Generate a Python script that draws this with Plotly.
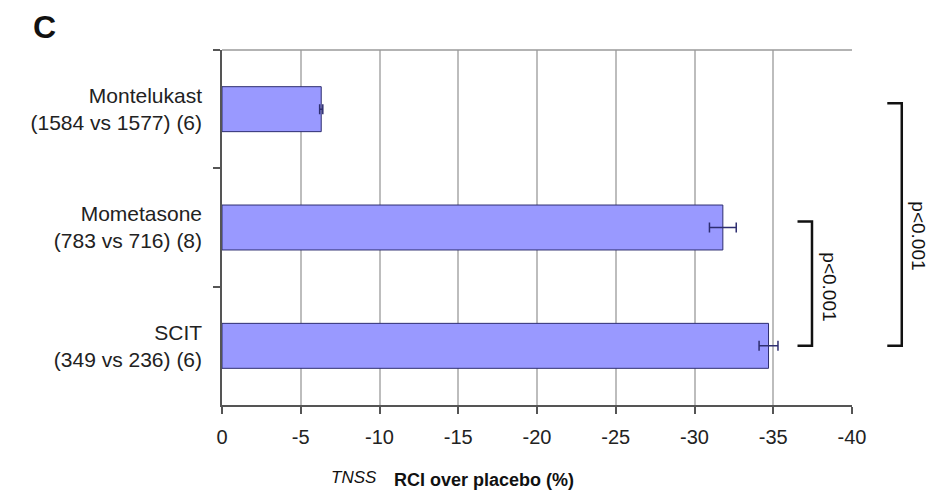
import plotly.graph_objects as go

# ---- data ----
categories = [
    "Montelukast<br>(1584 vs 1577) (6)",
    "Mometasone<br>(783 vs 716) (8)",
    "SCIT<br>(349 vs 236) (6)",
]
rci_values = [-6.3, -31.8, -34.7]
rci_errors = [0.1, 0.85, 0.6]
x_tick_values = [0, -5, -10, -15, -20, -25, -30, -35, -40]
x_tick_labels = ["0", "-5", "-10", "-15", "-20", "-25", "-30", "-35", "-40"]
# comparisons: (from category index, to category index, label)
comparisons = [(1, 2, "p<0.001"), (0, 2, "p<0.001")]

W, H = 932, 497
L, R, T, B = 222, 80, 50, 92

fig = go.Figure()
fig.add_trace(go.Bar(
    x=rci_values, y=categories, orientation="h",
    width=0.38,
    marker=dict(color="#9999ff", line=dict(color="#2e2e70", width=1)),
    error_x=dict(type="data", array=rci_errors, color="#2e2e70", thickness=1.5, width=5),
    showlegend=False,
))

font_main = "Liberation Sans Narrow, Liberation Sans, Arial, sans-serif"

fig.update_layout(
    width=W, height=H,
    margin=dict(l=L, r=R, t=T, b=B),
    paper_bgcolor="white", plot_bgcolor="white",
    font=dict(family="Liberation Sans, Arial, sans-serif", color="#222"),
    xaxis=dict(
        range=[0, -40], tickvals=x_tick_values, ticktext=x_tick_labels,
        showgrid=True, gridcolor="#bdbdbd", gridwidth=1.5,
        zeroline=False, showline=True, linecolor="#555", linewidth=1.5,
        ticks="outside", ticklen=7, tickcolor="#555", tickwidth=1.5,
        tickfont=dict(size=20, family=font_main, color="#222"),
        ticklabelstandoff=6,
    ),
    yaxis=dict(
        type="category", categoryorder="array", categoryarray=categories,
        range=[2.5, -0.5], tickson="boundaries",
        showgrid=False, zeroline=False, showline=True, linecolor="#555", linewidth=1.5,
        ticks="outside", ticklen=7, tickcolor="#555", tickwidth=1.5,
        tickfont=dict(size=21, family="Liberation Sans, Arial, sans-serif", color="#222"),
        ticklabelstandoff=14,
    ),
)

# top border
fig.add_shape(type="line", xref="paper", yref="paper", x0=0, x1=1, y0=1, y1=1,
              line=dict(color="#9a9a9a", width=1.5))

# significance brackets
bracket_x = [0.9365, 1.079]
tick_len = 0.023
text_x = [0.964, 1.105]
text_shift = [0, -8]
for (i0, i1, lab), bx, tx, ts in zip(comparisons, bracket_x, text_x, text_shift):
    fig.add_shape(type="path", xref="paper", yref="y",
                  path=f"M {bx - tick_len},{i0 - 0.05} L {bx},{i0 - 0.05} L {bx},{i1} L {bx - tick_len},{i1}",
                  line=dict(color="#111", width=2.5))
    fig.add_annotation(x=tx, y=(i0 + i1) / 2, xref="paper", yref="y", text=lab,
                       xanchor="center", yanchor="middle", yshift=ts,
                       showarrow=False, textangle=90,
                       font=dict(size=19, family="Liberation Sans, Arial, sans-serif", color="#111"))

# panel letter
fig.add_annotation(x=-0.2825, y=1.065, xref="paper", yref="paper", text="<b>C</b>",
                   xanchor="center", yanchor="middle",
                   showarrow=False, font=dict(size=32, color="#111"))
# axis title
fig.add_annotation(x=0.2095, y=-0.205, xref="paper", yref="paper", text="<i>TNSS</i>",
                   xanchor="center", yanchor="middle",
                   showarrow=False, font=dict(size=17, color="#111"))
fig.add_annotation(x=0.416, y=-0.21, xref="paper", yref="paper", text="<b>RCI over placebo (%)</b>",
                   xanchor="center", yanchor="middle",
                   showarrow=False, font=dict(size=18, color="#111"))

fig.write_html("out.html")
